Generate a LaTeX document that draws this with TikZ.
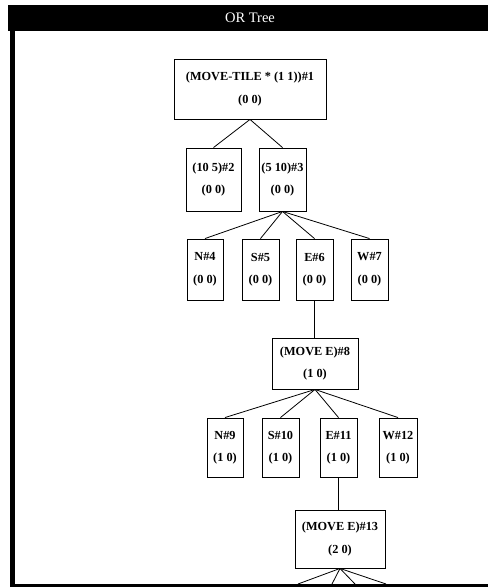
\documentclass[tikz,border=0pt]{standalone}
\usepackage{fontspec}
\setmainfont{Liberation Serif}
\begin{document}
\begin{tikzpicture}[x=1pt,y=-1pt,
  treebox/.style={draw=black, line width=0.9pt, fill=white, inner sep=0pt,
    align=center, font=\bfseries\fontsize{12.3}{22.5}\selectfont},
  link/.style={draw=black, line width=0.8pt}]
  \useasboundingbox (0,0) rectangle (488,587);
  \fill[white] (0,0) rectangle (488,587);
  % window frame
  \fill[black] (8,5) rectangle (488,31);
  \fill[black] (10,31) rectangle (15,587);
  \fill[black] (15,584) rectangle (488,587);
  \node[text=white, font=\fontsize{14.5}{16}\selectfont] (title) at (250,18) {OR Tree};

  % root and first level
  \node[treebox, minimum width=152pt, minimum height=60pt] (n1) at (250,89)
    {(MOVE-TILE * (1 1))\#1\\(0 0)};
  \node[treebox, minimum width=55pt, minimum height=63pt] (n2) at (213.5,179.5)
    {(10 5)\#2\\(0 0)};
  \node[treebox, minimum width=47pt, minimum height=63pt] (n3) at (282.5,179.5)
    {(5 10)\#3\\(0 0)};

  % directions under (5 10)
  \node[treebox, minimum width=36pt, minimum height=61pt] (n4) at (205,269.5) {N\#4\\(0 0)};
  \node[treebox, minimum width=37pt, minimum height=61pt] (n5) at (260.5,269.5) {S\#5\\(0 0)};
  \node[treebox, minimum width=37pt, minimum height=61pt] (n6) at (314.5,269.5) {E\#6\\(0 0)};
  \node[treebox, minimum width=37pt, minimum height=61pt] (n7) at (369.5,269.5) {W\#7\\(0 0)};

  \node[treebox, minimum width=86pt, minimum height=51pt] (n8) at (315,363.5)
    {(MOVE E)\#8\\(1 0)};

  % directions under (MOVE E)#8
  \node[treebox, minimum width=36pt, minimum height=59pt] (n9) at (225,447.5) {N\#9\\(1 0)};
  \node[treebox, minimum width=37pt, minimum height=59pt] (n10) at (280.5,447.5) {S\#10\\(1 0)};
  \node[treebox, minimum width=37pt, minimum height=59pt] (n11) at (338.5,447.5) {E\#11\\(1 0)};
  \node[treebox, minimum width=38pt, minimum height=59pt] (n12) at (398,447.5) {W\#12\\(1 0)};

  \node[treebox, minimum width=90pt, minimum height=58pt] (n13) at (340,539)
    {(MOVE E)\#13\\(2 0)};

  % branches running off the bottom edge
  \coordinate (c1) at (298,584);
  \coordinate (c2) at (332,584);
  \coordinate (c3) at (355,584);
  \coordinate (c4) at (386,584);

  \draw[link] (n1.south) -- (n2.north);
  \draw[link] (n1.south) -- (n3.north);
  \foreach \k in {n4,n5,n6,n7} \draw[link] (n3.south) -- (\k.north);
  \draw[link] (n6.south) -- (n6.south |- n8.north);
  \foreach \k in {n9,n10,n11,n12} \draw[link] (n8.south) -- (\k.north);
  \draw[link] (n11.south) -- (n11.south |- n13.north);
  \foreach \k in {c1,c2,c3,c4} \draw[link] (n13.south) -- (\k);
\end{tikzpicture}
\end{document}
